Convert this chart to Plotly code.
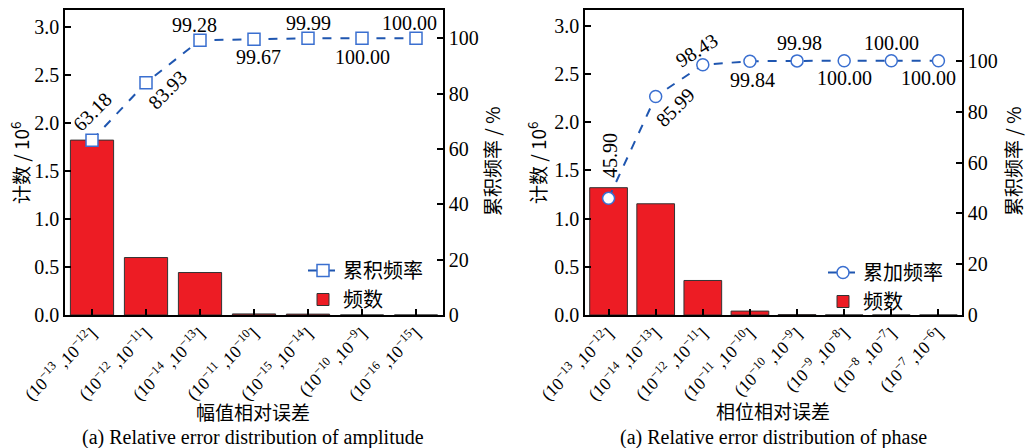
import plotly.graph_objects as go

# ---------------- data ----------------
amp_labels = ["(10<sup>−13</sup> ,10<sup>−12</sup>]", "(10<sup>−12</sup> ,10<sup>−11</sup>]",
              "(10<sup>−14</sup> ,10<sup>−13</sup>]", "(10<sup>−11</sup> ,10<sup>−10</sup>]",
              "(10<sup>−15</sup> ,10<sup>−14</sup>]", "(10<sup>−10</sup> ,10<sup>−9</sup>]",
              "(10<sup>−16</sup> ,10<sup>−15</sup>]"]
amp_counts = [1.82, 0.598, 0.442, 0.0112, 0.0092, 0.0003, 0.00003]
amp_cum = [63.18, 83.93, 99.28, 99.67, 99.99, 100.00, 100.00]

ph_labels = ["(10<sup>−13</sup> ,10<sup>−12</sup>]", "(10<sup>−14</sup> ,10<sup>−13</sup>]",
             "(10<sup>−12</sup> ,10<sup>−11</sup>]", "(10<sup>−11</sup> ,10<sup>−10</sup>]",
             "(10<sup>−10</sup> ,10<sup>−9</sup>]", "(10<sup>−9</sup> ,10<sup>−8</sup>]",
             "(10<sup>−8</sup> ,10<sup>−7</sup>]", "(10<sup>−7</sup> ,10<sup>−6</sup>]"]
ph_counts = [1.32, 1.153, 0.358, 0.0405, 0.004, 0.0006, 0.0001, 0.00002]
ph_cum = [45.90, 85.99, 98.43, 99.84, 99.98, 100.00, 100.00, 100.00]

# label placement styles (pixel offsets, angles)
amp_lbl_style = [(0, 28, -45), (21, -7, -45), (-6, 15, 0), (4, -18, 0),
                 (0, 15, 0), (0, -19, 0), (-7, 15, 0)]
ph_lbl_style = [(2, 43, -90), (20, -11, -45), (-6, 15, -32), (3, -19, 0),
                (2, 18, 0), (0, -17, 0), (0, 18, 0), (-10, -17, 0)]

# ---------------- style ----------------
SERIF = "Liberation Serif, Times New Roman, Noto Sans CJK SC, serif"
CJK = "Noto Sans CJK SC, Liberation Serif, sans-serif"
FS = 20
BAR_COLOR = "#ED1C24"
LINE_COLOR = "#1F56B0"
MARK_COLOR = "#3A6FD0"

fig = go.Figure()

# left panel
fig.add_trace(go.Scatter(x=amp_labels, y=amp_cum, xaxis="x", yaxis="y2", name="累积频率",
                         mode="lines+markers",
                         line=dict(color=LINE_COLOR, width=2, dash="dash"),
                         marker=dict(symbol="square", size=12, color="white",
                                     line=dict(color=MARK_COLOR, width=1.5)),
                         legend="legend"))
fig.add_trace(go.Bar(x=amp_labels, y=amp_counts, xaxis="x", yaxis="y", name="频数",
                     width=0.8, marker=dict(color=BAR_COLOR, line=dict(color="#333333", width=1)),
                     legend="legend"))
# right panel
fig.add_trace(go.Scatter(x=ph_labels, y=ph_cum, xaxis="x2", yaxis="y4", name="累加频率",
                         mode="lines+markers",
                         line=dict(color=LINE_COLOR, width=2, dash="dash"),
                         marker=dict(symbol="circle", size=12, color="white",
                                     line=dict(color=MARK_COLOR, width=1.5)),
                         legend="legend2"))
fig.add_trace(go.Bar(x=ph_labels, y=ph_counts, xaxis="x2", yaxis="y3", name="频数",
                     width=0.8, marker=dict(color=BAR_COLOR, line=dict(color="#333333", width=1)),
                     legend="legend2"))

ydom = [1 - 315 / 448, 1 - 10 / 448]
xdom1 = [65 / 1026, 443 / 1026]
xdom2 = [585 / 1026, 962 / 1026]

axis_common = dict(showline=True, linecolor="black", linewidth=1.5, ticks="inside",
                   ticklen=6, tickwidth=1.5, tickcolor="black", showgrid=False,
                   zeroline=False, automargin=False,
                   tickfont=dict(family=SERIF, size=FS, color="black"))

def xax(dom, anchor, n):
    d = dict(axis_common)
    d.update(domain=dom, anchor=anchor, mirror=True, tickangle=-45,
             range=[-0.5, n - 0.5], type="category",
             tickfont=dict(family=SERIF, size=17.5, color="black"))
    return d

def yleft(anchor, top):
    d = dict(axis_common)
    d.update(domain=ydom, anchor=anchor, range=[0, top], tickvals=[0, 0.5, 1, 1.5, 2, 2.5, 3],
             tickformat=".1f")
    return d

def yright(anchor, overlay, top):
    d = dict(axis_common)
    d.update(domain=ydom, anchor=anchor, overlaying=overlay, side="right", range=[0, top],
             tickvals=[0, 20, 40, 60, 80, 100])
    return d

annotations = []
def add_labels(xs, ys, styles, xref, yref):
    for x, y, (dx, dy, ang) in zip(xs, ys, styles):
        annotations.append(dict(x=x, y=y, xref=xref, yref=yref, text=f"{y:.2f}",
                                showarrow=False, xshift=dx, yshift=dy, textangle=ang,
                                xanchor="center", yanchor="middle",
                                font=dict(family=SERIF, size=FS, color="black")))

add_labels(amp_labels, amp_cum, amp_lbl_style, "x", "y2")
add_labels(ph_labels, ph_cum, ph_lbl_style, "x2", "y4")

def paper_text(text, px, py, ang=0, font=SERIF, size=FS):
    annotations.append(dict(x=px / 1026, y=1 - py / 448, xref="paper", yref="paper",
                            text=text, showarrow=False, textangle=ang,
                            xanchor="center", yanchor="middle",
                            font=dict(family=font, size=size, color="black")))

# axis titles
paper_text("计数 / 10<sup>6</sup>", 20, 163, -90, CJK, 19)
paper_text("累积频率 / %", 492, 162, -90, CJK, 19)
paper_text("计数 / 10<sup>6</sup>", 537, 163, -90, CJK, 19)
paper_text("累积频率 / %", 1013, 162, -90, CJK, 19)
paper_text("幅值相对误差", 253, 411, 0, CJK, 19)
paper_text("相位相对误差", 773, 410, 0, CJK, 19)
paper_text("(a) Relative error distribution of amplitude", 253, 437, 0, SERIF, 20)
paper_text("(a) Relative error distribution of phase", 773, 437, 0, SERIF, 20)

legend_common = dict(bgcolor="rgba(0,0,0,0)", borderwidth=0, xanchor="left", yanchor="top",
                     font=dict(family=CJK, size=20, color="black"), tracegroupgap=0,
                     traceorder="normal", itemwidth=30)

fig.update_layout(
    width=1026, height=448,
    margin=dict(l=0, r=0, t=0, b=0),
    paper_bgcolor="white", plot_bgcolor="white",
    showlegend=True, bargap=0.2,
    xaxis=xax(xdom1, "y", len(amp_labels)),
    yaxis=yleft("x", 3.174),
    yaxis2=yright("x", "y", 110.2),
    xaxis2=xax(xdom2, "y3", len(ph_labels)),
    yaxis3=yleft("x2", 3.162),
    yaxis4=yright("x2", "y3", 120),
    legend=dict(legend_common, x=303 / 1026, y=1 - 251 / 448),
    legend2=dict(legend_common, x=823 / 1026, y=1 - 253 / 448),
    annotations=annotations,
)

fig.write_html("out.html", config={"displayModeBar": False},
               post_script="document.body.style.margin='0';document.body.style.overflow='hidden';")
